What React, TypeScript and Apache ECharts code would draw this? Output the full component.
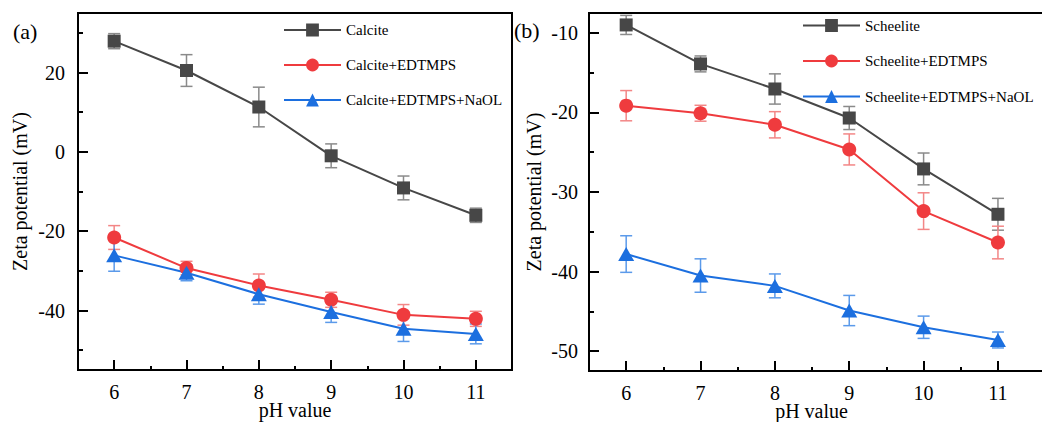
import React, { useEffect, useRef } from "react";
import * as echarts from "echarts";

// ---------- data ----------
const pH = [6, 7, 8, 9, 10, 11];

const calcite = [27.9, 20.5, 11.3, -1.0, -9.1, -16.0];
const calciteErr = [1.9, 4.0, 5.0, 3.0, 3.0, 1.8];
const calciteEdtmps = [-21.6, -29.3, -33.7, -37.3, -41.1, -42.1];
const calciteEdtmpsErr = [3.0, 1.7, 2.9, 1.9, 2.6, 1.9];
const calciteEdtmpsNaol = [-26.1, -30.5, -35.9, -40.4, -44.6, -45.9];
const calciteEdtmpsNaolErr = [4.0, 2.0, 2.5, 2.6, 3.2, 2.5];

const scheelite = [-9.0, -13.9, -17.05, -20.7, -27.1, -32.8];
const scheeliteErr = [1.2, 1.0, 1.9, 1.45, 2.0, 2.0];
const scheeliteEdtmps = [-19.15, -20.1, -21.55, -24.65, -32.4, -36.35];
const scheeliteEdtmpsErr = [1.9, 1.0, 1.65, 1.95, 2.3, 2.05];
const scheeliteEdtmpsNaol = [-37.8, -40.5, -41.8, -44.9, -47.0, -48.6];
const scheeliteEdtmpsNaolErr = [2.3, 2.1, 1.5, 1.9, 1.4, 1.0];

const xTicks = [6, 7, 8, 9, 10, 11];
const xMinorTicks = [6.5, 7.5, 8.5, 9.5, 10.5];
const leftYTicks = [-40, -20, 0, 20];
const leftYMinorTicks = [-50, -30, -10, 10, 30];
const rightYTicks = [-50, -40, -30, -20, -10];
const rightYMinorTicks = [-45, -35, -25, -15];

const namesA = ["Calcite", "Calcite+EDTMPS", "Calcite+EDTMPS+NaOL"];
const namesB = ["Scheelite", "Scheelite+EDTMPS", "Scheelite+EDTMPS+NaOL"];
const panelLabels = ["(a)", "(b)"];
const xName = "pH value";
const yName = "Zeta potential (mV)";

// ---------- style ----------
const FONT = "Liberation Serif";
const COLORS = ["#474747", "#ef3b3e", "#1c6fdf"];
const ERR_COLORS = ["#8a8a8a", "#f38686", "#5b9aea"];
const SYMBOLS: any[] = ["rect", "circle", "triangle"];
const SYMBOL_SIZES: any[] = [13, 14, [16, 14]];

function errData(v: number[], e: number[]) {
  return pH.map((x, i) => [x, v[i] - e[i], v[i] + e[i]]);
}

function errSeries(name: string, data: number[][], color: string, gi: number) {
  return {
    type: "custom",
    name,
    xAxisIndex: gi * 2,
    yAxisIndex: gi * 2,
    z: 2,
    encode: { x: 0, y: [1, 2] },
    data,
    renderItem: (params: any, api: any) => {
      const x = api.value(0);
      const lo = api.coord([x, api.value(1)]);
      const hi = api.coord([x, api.value(2)]);
      const hw = 6;
      const style = { stroke: color, lineWidth: 1.5, fill: "none" };
      return {
        type: "group",
        children: [
          { type: "line", shape: { x1: lo[0], y1: lo[1], x2: hi[0], y2: hi[1] }, style },
          { type: "line", shape: { x1: lo[0] - hw, y1: lo[1], x2: lo[0] + hw, y2: lo[1] }, style },
          { type: "line", shape: { x1: hi[0] - hw, y1: hi[1], x2: hi[0] + hw, y2: hi[1] }, style },
        ],
      };
    },
  };
}

function lineSeries(name: string, v: number[], k: number, gi: number) {
  return {
    type: "line",
    name,
    xAxisIndex: gi * 2,
    yAxisIndex: gi * 2,
    z: 3,
    data: pH.map((x, i) => [x, v[i]]),
    symbol: SYMBOLS[k],
    symbolSize: SYMBOL_SIZES[k],
    showSymbol: true,
    lineStyle: { color: COLORS[k], width: 2 },
    itemStyle: { color: COLORS[k] },
  };
}

function xAxes(gi: number, max: number, namePad: number[]) {
  return [
    {
      type: "value",
      gridIndex: gi,
      position: "bottom",
      min: 5.5,
      max,
      name: xName,
      nameLocation: "middle",
      nameGap: 30,
      nameMoveOverlap: false,
      nameTextStyle: { fontFamily: FONT, fontSize: 20, lineHeight: 20, color: "#000", padding: namePad },
      axisLine: { show: true, onZero: false, lineStyle: { color: "#000", width: 2 } },
      axisTick: { show: true, inside: true, length: 10, customValues: xTicks, lineStyle: { color: "#000", width: 2 } },
      axisLabel: { show: true, customValues: xTicks, margin: 12, fontFamily: FONT, fontSize: 20, color: "#000" },
      splitLine: { show: false },
    },
    {
      type: "value",
      gridIndex: gi,
      position: "bottom",
      min: 5.5,
      max,
      axisLine: { show: false, onZero: false },
      axisTick: { show: true, inside: true, length: 4, customValues: xMinorTicks, lineStyle: { color: "#000", width: 2 } },
      axisLabel: { show: false },
      splitLine: { show: false },
    },
  ];
}

function yAxes(gi: number, min: number, max: number, ticks: number[], minor: number[], margin: number, gap: number) {
  return [
    {
      type: "value",
      gridIndex: gi,
      position: "left",
      min,
      max,
      name: yName,
      nameLocation: "middle",
      nameGap: gap,
      nameTextStyle: { fontFamily: FONT, fontSize: 20, color: "#000" },
      axisLine: { show: true, onZero: false, lineStyle: { color: "#000", width: 2 } },
      axisTick: { show: true, inside: true, length: 10, customValues: ticks, lineStyle: { color: "#000", width: 2 } },
      axisLabel: { show: true, customValues: ticks, margin, fontFamily: FONT, fontSize: 20, color: "#000" },
      splitLine: { show: false },
    },
    {
      type: "value",
      gridIndex: gi,
      position: "left",
      min,
      max,
      axisLine: { show: false, onZero: false },
      axisTick: { show: true, inside: true, length: 5, customValues: minor, lineStyle: { color: "#000", width: 2 } },
      axisLabel: { show: false },
      splitLine: { show: false },
    },
  ];
}

function legend(names: string[], left: number, top: number, gap: number) {
  return {
    data: names,
    orient: "vertical",
    left,
    top,
    padding: 0,
    itemWidth: 57,
    itemHeight: 16,
    itemGap: gap,
    selectedMode: false,
    textStyle: { fontFamily: FONT, fontSize: 15, color: "#000", padding: [11, 0, 0, 0] },
  };
}

export default function App() {
  const ref = useRef<HTMLDivElement>(null);
  useEffect(() => {
    if (!ref.current) return;
    const chart = echarts.init(ref.current, null, { renderer: "svg" });
    const option: any = {
      animation: false,
      backgroundColor: "#fff",
      grid: [
        { left: 78, top: 13, width: 434, height: 357, show: true, borderColor: "#000", borderWidth: 2, containLabel: false, outerBoundsMode: "none" },
        { left: 589, top: 13, width: 461, height: 358, show: true, borderColor: "#000", borderWidth: 2, containLabel: false, outerBoundsMode: "none" },
      ],
      xAxis: [...xAxes(0, 11.5, [0, 0, 0, 0]), ...xAxes(1, 11.7, [0, 16, 0, 0])],
      yAxis: [
        ...yAxes(0, -55, 35, leftYTicks, leftYMinorTicks, 13, 48),
        ...yAxes(1, -52.5, -7.5, rightYTicks, rightYMinorTicks, 11, 45),
      ],
      legend: [legend(namesA, 283, 22.5, 20), legend(namesB, 802, 18, 20.5)],
      graphic: [
        { type: "text", left: 13, top: 20, style: { text: panelLabels[0], font: `22px ${FONT}`, fill: "#000" } },
        { type: "text", left: 514, top: 19, style: { text: panelLabels[1], font: `22px ${FONT}`, fill: "#000" } },
      ],
      series: [
        errSeries("e0", errData(calcite, calciteErr), ERR_COLORS[0], 0),
        errSeries("e1", errData(calciteEdtmps, calciteEdtmpsErr), ERR_COLORS[1], 0),
        errSeries("e2", errData(calciteEdtmpsNaol, calciteEdtmpsNaolErr), ERR_COLORS[2], 0),
        lineSeries(namesA[0], calcite, 0, 0),
        lineSeries(namesA[1], calciteEdtmps, 1, 0),
        lineSeries(namesA[2], calciteEdtmpsNaol, 2, 0),
        errSeries("e3", errData(scheelite, scheeliteErr), ERR_COLORS[0], 1),
        errSeries("e4", errData(scheeliteEdtmps, scheeliteEdtmpsErr), ERR_COLORS[1], 1),
        errSeries("e5", errData(scheeliteEdtmpsNaol, scheeliteEdtmpsNaolErr), ERR_COLORS[2], 1),
        lineSeries(namesB[0], scheelite, 0, 1),
        lineSeries(namesB[1], scheeliteEdtmps, 1, 1),
        lineSeries(namesB[2], scheeliteEdtmpsNaol, 2, 1),
      ],
    };
    chart.setOption(option);
    return () => chart.dispose();
  }, []);
  return (
    <div style={{ position: "fixed", left: 0, top: 0, width: 1042, height: 422, overflow: "hidden", background: "#fff" }}>
      <div ref={ref} style={{ width: 1042, height: 422 }} />
    </div>
  );
}
